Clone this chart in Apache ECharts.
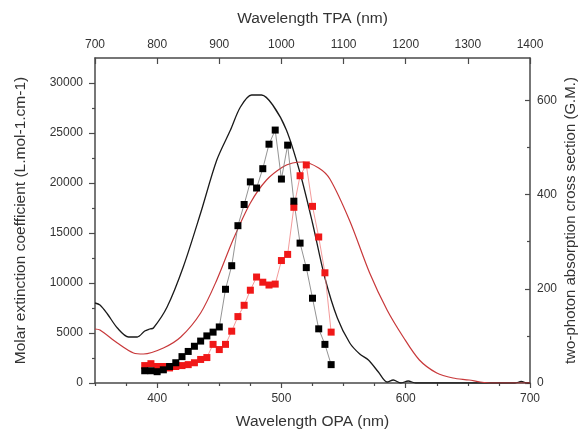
<!DOCTYPE html>
<html>
<head>
<meta charset="utf-8">
<script src="https://cdn.jsdelivr.net/npm/echarts@6/dist/echarts.min.js"></script>
<style>
  html, body { margin: 0; padding: 0; background: #fff; }
  #chart { width: 579px; height: 430px; }
</style>
</head>
<body>
<div id="chart"></div>
<script>
// one-photon absorption spectra (OPA wavelength, nm -> L.mol-1.cm-1)
const absBlackWl = [350, 354, 360, 368, 377, 384, 390, 394, 397, 408, 421, 435, 448, 459, 467, 476, 484, 493, 504, 515, 525, 535, 545, 555, 563, 570, 578, 585, 590, 596, 602, 608, 650, 688, 693, 698, 700]
const absBlack = [8000, 7800, 6900, 5500, 4600, 4600, 5200, 5400, 5500, 7600, 11600, 17000, 22300, 25300, 27600, 28800, 28800, 27800, 25300, 21000, 16000, 10500, 6500, 4000, 2900, 2300, 1100, 100, 300, 0, 200, 0, 0, 0, 150, 0, 0]

const absRedWl = [350, 354, 368, 381, 389, 405, 419, 435, 448, 461, 475, 488, 501, 509, 517, 530, 539, 555, 571, 585, 598, 611, 625, 638, 651, 660, 670, 700]
const absRed = [5400, 5300, 4000, 3000, 2900, 3500, 4600, 7000, 10300, 14300, 18000, 20300, 21600, 22000, 22100, 21500, 20400, 16200, 11000, 7300, 4600, 2300, 1000, 500, 300, 100, 0, 0]

// two-photon absorption cross sections (TPA wavelength, nm -> G.M.)
const tpaWl = [780, 790, 800, 810, 820, 830, 840, 850, 860, 870, 880, 890, 900, 910, 920, 930, 940, 950, 960, 970, 980, 990, 1000, 1010, 1020, 1030, 1040, 1050, 1060, 1070, 1080]
const tpaBlack = [26, 26, 24, 28, 35, 43, 56, 67, 78, 89, 100, 108, 119, 199, 249, 334, 379, 427, 414, 455, 507, 537, 433, 505, 386, 297, 245, 180, 115, 82, 39]
const tpaRed = [37, 41, 35, 35, 32, 35, 37, 39, 43, 50, 54, 82, 71, 82, 110, 141, 165, 197, 225, 214, 208, 210, 260, 273, 373, 440, 463, 375, 310, 234, 108]

// tick labels
const opaTicks = [400, 500, 600, 700]
const opaMinor = [350, 450, 550, 650]
const tpaTicks = [700, 800, 900, 1000, 1100, 1200, 1300, 1400]
const tpaMinor = [750, 850, 950, 1050, 1150, 1250, 1350]
const epsTicks = [0, 5000, 10000, 15000, 20000, 25000, 30000]
const epsMinor = [2500, 7500, 12500, 17500, 22500, 27500]
const gmTicks = [0, 200, 400, 600]
const gmMinor = [100, 300, 500]

const font = 'Liberation Sans, Arial, sans-serif'
const axisColor = '#4a4a4a'
const textColor = '#333'

function zip(xs, ys) {
  return xs.map((x, i) => [x, ys[i]])
}

function mainAxis(extra) {
  return Object.assign({
    type: 'value',
    nameLocation: 'middle',
    nameMoveOverlap: false,
    nameTextStyle: { fontFamily: font, fontSize: 15.5, color: textColor },
    axisLine: { show: true, onZero: false, lineStyle: { color: axisColor, width: 1.5 } },
    splitLine: { show: false }
  }, extra)
}

function label(values, margin) {
  return {
    customValues: values,
    fontFamily: font,
    fontSize: 12,
    color: textColor,
    margin: margin,
    formatter: v => String(v)
  }
}

function minorAxis(extra, values, inside) {
  return Object.assign({
    type: 'value',
    gridIndex: 1,
    axisLine: { show: false },
    axisLabel: { show: false },
    splitLine: { show: false },
    axisTick: { show: true, inside: inside, length: 3, customValues: values, lineStyle: { color: axisColor, width: 1.2 } }
  }, extra)
}

const chart = echarts.init(document.getElementById('chart'))

chart.setOption({
  animation: false,
  backgroundColor: '#fff',
  grid: [
    { left: 95, right: 49, top: 58, bottom: 47, outerBoundsMode: 'none' },
    { left: 95, right: 49, top: 58, bottom: 47, outerBoundsMode: 'none' }
  ],
  xAxis: [
    mainAxis({
      position: 'bottom', min: 350, max: 700,
      name: 'Wavelength OPA (nm)', nameGap: 31,
      axisTick: { inside: false, length: 5, customValues: opaTicks, lineStyle: { color: axisColor, width: 1.2 } },
      axisLabel: label(opaTicks, 10)
    }),
    mainAxis({
      position: 'top', min: 700, max: 1400,
      name: 'Wavelength TPA (nm)', nameGap: 31,
      axisTick: { inside: true, length: 6, customValues: tpaTicks, lineStyle: { color: axisColor, width: 1.2 } },
      axisLabel: label(tpaTicks, 7)
    }),
    minorAxis({ position: 'bottom', min: 350, max: 700 }, opaMinor, false),
    minorAxis({ position: 'top', min: 700, max: 1400 }, tpaMinor, true)
  ],
  yAxis: [
    mainAxis({
      position: 'left', min: 0, max: 32500,
      name: 'Molar extinction coefficient (L.mol-1.cm-1)', nameGap: 66, nameRotate: 90,
      axisTick: { inside: false, length: 6, customValues: epsTicks, lineStyle: { color: axisColor, width: 1.2 } },
      axisLabel: label(epsTicks, 12)
    }),
    mainAxis({
      position: 'right', min: 0, max: 690,
      name: 'two-photon absorption cross section (G.M.)', nameGap: 33, nameRotate: 90,
      nameTextStyle: { fontFamily: font, fontSize: 15, color: textColor },
      axisTick: { inside: true, length: 5, customValues: gmTicks, lineStyle: { color: axisColor, width: 1.2 } },
      axisLabel: label(gmTicks, 7)
    }),
    minorAxis({ position: 'left', min: 0, max: 32500 }, epsMinor, false),
    minorAxis({ position: 'right', min: 0, max: 690 }, gmMinor, true)
  ],
  series: [
    {
      name: 'OPA black',
      type: 'line',
      xAxisIndex: 0,
      yAxisIndex: 0,
      data: zip(absBlackWl, absBlack),
      smooth: 0.3,
      showSymbol: false,
      lineStyle: { color: '#1a1a1a', width: 1.3 }
    },
    {
      name: 'OPA red',
      type: 'line',
      xAxisIndex: 0,
      yAxisIndex: 0,
      data: zip(absRedWl, absRed),
      smooth: 0.3,
      showSymbol: false,
      lineStyle: { color: '#c8383a', width: 1.2 }
    },
    {
      name: 'TPA red',
      type: 'line',
      xAxisIndex: 1,
      yAxisIndex: 1,
      data: zip(tpaWl, tpaRed),
      symbol: 'rect',
      symbolSize: 7,
      itemStyle: { color: '#f01818' },
      lineStyle: { color: '#f08080', width: 0.8 }
    },
    {
      name: 'TPA black',
      type: 'line',
      xAxisIndex: 1,
      yAxisIndex: 1,
      data: zip(tpaWl, tpaBlack),
      symbol: 'rect',
      symbolSize: 7,
      itemStyle: { color: '#000' },
      lineStyle: { color: '#777', width: 0.8 }
    }
  ]
})
</script>
</body>
</html>
